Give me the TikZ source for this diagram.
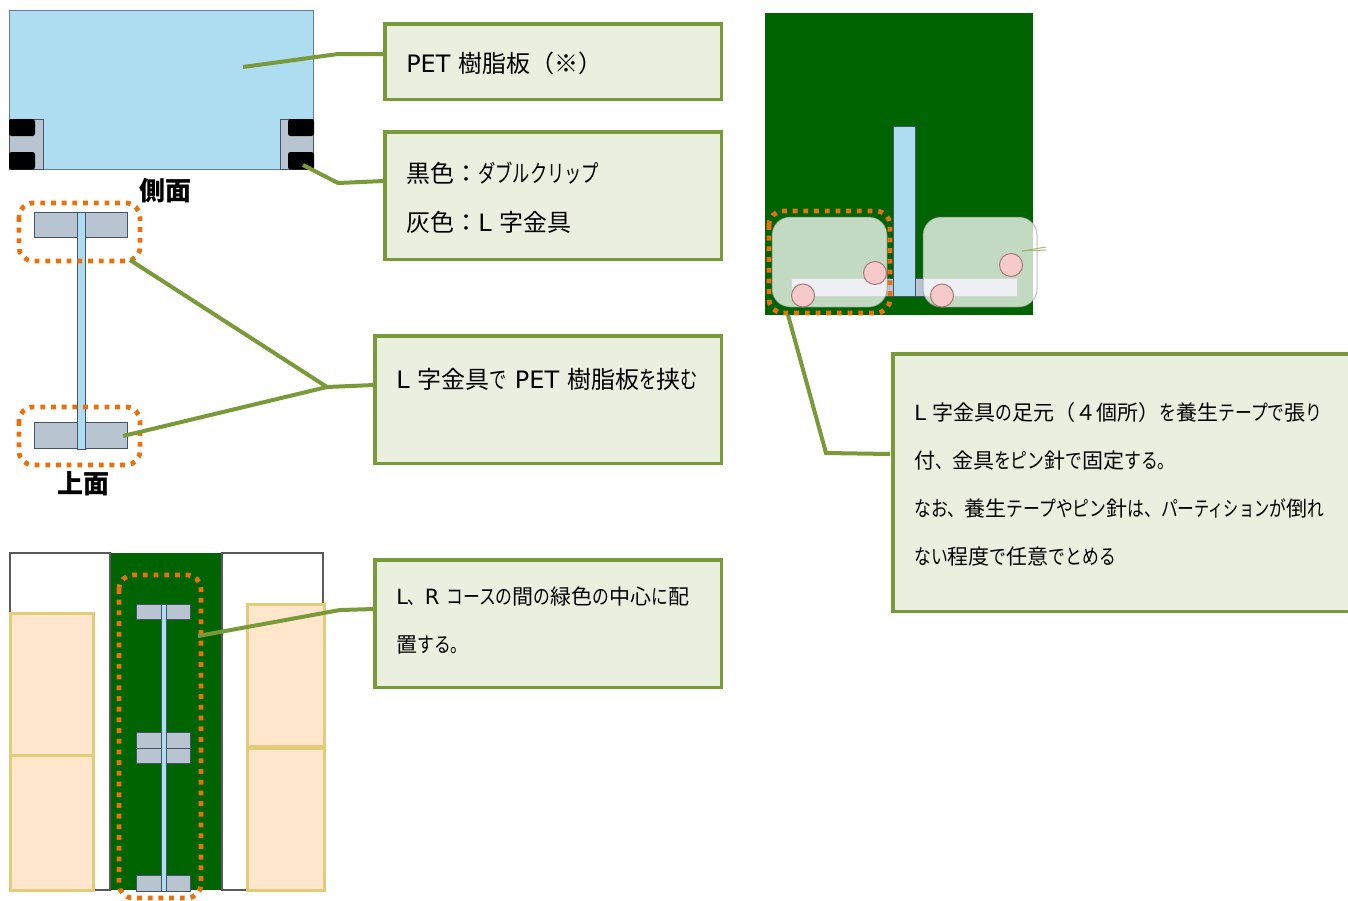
\documentclass[tikz,border=0pt]{standalone}
\usepackage{xcolor}
\usepackage{fontspec}
\setmainfont{DejaVu Sans}
\newfontfamily\jp{Noto Sans CJK JP}
\newfontfamily\kn[FakeStretch=0.72]{Noto Sans CJK JP}
\newfontfamily\knw[FakeStretch=0.80]{Noto Sans CJK JP}
\newcommand{\kana}[1]{{\kn #1}}
\newcommand{\kanaw}[1]{{\knw #1}}
\newcommand{\kanji}[1]{{\jp #1}}
\usetikzlibrary{positioning}
\definecolor{panelblue}{HTML}{AEDCF0}
\definecolor{bracketgray}{HTML}{B8C4D0}
\definecolor{edgegray}{HTML}{44546A}
\definecolor{floorgreen}{HTML}{006400}
\definecolor{leadgreen}{HTML}{7A9A3A}
\definecolor{notefill}{HTML}{EBEFDF}
\definecolor{dotorange}{HTML}{E97108}
\definecolor{creamfill}{HTML}{FFE6CC}
\definecolor{creamedge}{HTML}{E3CC78}
\definecolor{pinkfill}{HTML}{F6CACA}
\definecolor{pinkedge}{HTML}{A87878}
\tikzset{
  panel/.style={fill=panelblue, draw=edgegray, line width=1pt},
  bracket/.style={fill=bracketgray, draw=edgegray, line width=1pt},
  clip mark/.style={fill=black, rounded corners=2.5pt},
  orangedots/.style={draw=dotorange, line width=4.8pt, dash pattern=on 4.8pt off 5.9pt, rounded corners=14pt},
  leader/.style={draw=leadgreen, line width=4pt},
  notebox/.style={draw=leadgreen, fill=notefill, line width=3.5pt, anchor=north west, align=left, inner xsep=21.5pt, inner ysep=0pt},
  tape/.style={fill=white, fill opacity=0.76, draw=gray, draw opacity=0.5, line width=1pt, rounded corners=18pt},
  pin/.style={fill=pinkfill, draw=pinkedge, line width=1pt},
  course/.style={fill=white, draw=gray!70!black, line width=2pt},
  mat/.style={fill=creamfill, draw=creamedge, line width=3pt},
  viewlabel/.style={font=\fontsize{26}{30}\selectfont\jp\bfseries}
}
\begin{document}
\begin{tikzpicture}[x=1pt,y=-1pt]
    \useasboundingbox (0,0) rectangle (1348,900);

    % Side view
    \fill[panelblue, draw=edgegray!70!panelblue, line width=1pt] (9,10) rectangle (313.5,169.5);
    \draw[bracket] (9,119) rectangle (43.5,169.5);
    \draw[bracket] (280,119) rectangle (313.5,169.5);
    \fill[clip mark] (9,119) rectangle (35,136);
    \fill[clip mark] (9,152) rectangle (35,169.5);
    \fill[clip mark] (288,119) rectangle (314,136);
    \fill[clip mark] (288,152) rectangle (314,169.5);
    \node[viewlabel] (sidelabel) at (165,191) {側面};

    % Top view
    \draw[bracket] (34,212) rectangle (127.5,237);
    \draw[bracket] (34,422) rectangle (127.5,448);
    \draw[panel] (77,212) rectangle (85,449);
    \draw[orangedots] (19,203) rectangle (140,261);
    \draw[orangedots] (19,407) rectangle (140,465);
    \node[viewlabel] (toplabel) at (83,484) {上面};

    % Course layout
    \draw[course] (10,553) rectangle (110,890);
    \draw[course] (222,553) rectangle (323,890);
    \fill[floorgreen] (111,553) rectangle (221,890);
    \draw[mat] (10,613) rectangle (93.5,755);
    \draw[mat] (10,755) rectangle (93.5,890);
    \draw[mat] (247,604) rectangle (324.5,746);
    \draw[mat] (247,748) rectangle (324.5,890);
    \foreach \ya/\yb in {604/619, 732/748, 748/763, 875/891}
        \draw[bracket] (136.5,\ya) rectangle (190.5,\yb);
    \draw[panel] (161,604) rectangle (166,891);
    \draw[orangedots] (119,575) rectangle (201,898);

    % Close-up
    \fill[floorgreen] (765,13) rectangle (1033,315);
    \draw[bracket] (791,278) rectangle (893,296);
    \draw[bracket] (915,278) rectangle (1017,296);
    \draw[panel] (893,126) rectangle (915,296);
    \draw[tape] (772,217) rectangle (887,307);
    \draw[tape] (923,217) rectangle (1037,307);
    \foreach \px/\py in {875/273, 803/295.5, 942/295.5, 1011/265}
        \draw[pin] (\px,\py) circle (11.5);
    \draw[orangedots] (769,211) rectangle (890,313);

    % Notes
    \node[notebox, minimum width=336.5pt, minimum height=75.5pt,
          text width=293.5pt, font=\fontsize{24}{48}\selectfont] (petnote) at (383,22)
        {\rule{0pt}{25pt}PET \kanji{樹脂板（※）}};
    \node[notebox, minimum width=336.5pt, minimum height=127.5pt,
          text width=293.5pt, font=\fontsize{24}{49}\selectfont] (colornote) at (383,130)
        {\rule{0pt}{24pt}\kanji{黒色：}\kana{ダブルクリップ}\\
         \kanji{灰色：}L \kanji{字金具}};
    \node[notebox, minimum width=346.5pt, minimum height=127.5pt,
          text width=303.5pt, font=\fontsize{24}{48}\selectfont] (holdnote) at (373,334)
        {\rule{0pt}{25pt}L \kanji{字金具}\kana{で} PET \kanji{樹脂板}\kana{を}\kanji{挟}\kana{む}\\ \mbox{}};
    \node[notebox, minimum width=346.5pt, minimum height=127.5pt,
          text width=303.5pt, font=\fontsize{21}{48}\selectfont] (placenote) at (373,558)
        {L\kanaw{、}R \kanaw{コースの}\kanji{間}\kanaw{の}\kanji{緑色}\kanaw{の}\kanji{中心}\kanaw{に}\kanji{配}\\
         \kanji{置}\kanaw{する。}\rule[-7pt]{0pt}{7pt}};
    \node[notebox, minimum width=462pt, minimum height=257.5pt,
          text width=419pt, font=\fontsize{21}{48.2}\selectfont] (fixnote) at (891,352)
        {\rule{0pt}{22pt}L \kanji{字金具}\kanaw{の}\kanji{足元（４個所）}\kanaw{を}\kanji{養生}\kanaw{テープで}\kanji{張}\kanaw{り}\\
         \kanji{付}\kanaw{、}\kanji{金具}\kanaw{をピン}\kanji{針}\kanaw{で}\kanji{固定}\kanaw{する。}\\
         \kanaw{なお、}\kanji{養生}\kanaw{テープやピン}\kanji{針}\kanaw{は、パー}\kana{ティション}\kanaw{が}\kanji{倒}\kanaw{れ}\\
         \kanaw{ない}\kanji{程度}\kanaw{で}\kanji{任意}\kanaw{でとめる}};

    % Leaders
    \coordinate (petstart) at (243,67);
    \coordinate (petbend) at (338,54);
    \coordinate (petend) at (384,54);
    \draw[leader] (petstart) -- (petbend) -- (petend);

    \coordinate (clipstart) at (303,165);
    \coordinate (clipbend) at (338,183);
    \coordinate (clipend) at (384,181);
    \draw[leader] (clipstart) -- (clipbend) -- (clipend);

    \coordinate (upperstart) at (130,260);
    \coordinate (lowerstart) at (123,436);
    \coordinate (holdbend) at (327,387);
    \coordinate (holdend) at (374,385);
    \draw[leader] (upperstart) -- (holdbend) -- (holdend);
    \draw[leader] (lowerstart) -- (holdbend);

    \coordinate (placestart) at (198,636);
    \coordinate (placebend) at (340,610);
    \coordinate (placeend) at (374,609);
    \draw[leader] (placestart) -- (placebend) -- (placeend);

    \coordinate (fixstart) at (788,315);
    \coordinate (fixbend) at (826,453);
    \coordinate (fixend) at (890,454);
    \draw[leader] (fixstart) -- (fixbend) -- (fixend);

    % Stub behind the right tape
    \coordinate (stubstart) at (1022,251);
    \draw[leadgreen!70, line width=1pt] (stubstart) -- (1046,247);
    \draw[leadgreen!70, line width=1pt] (stubstart) -- (1046,250);
\end{tikzpicture}
\end{document}
